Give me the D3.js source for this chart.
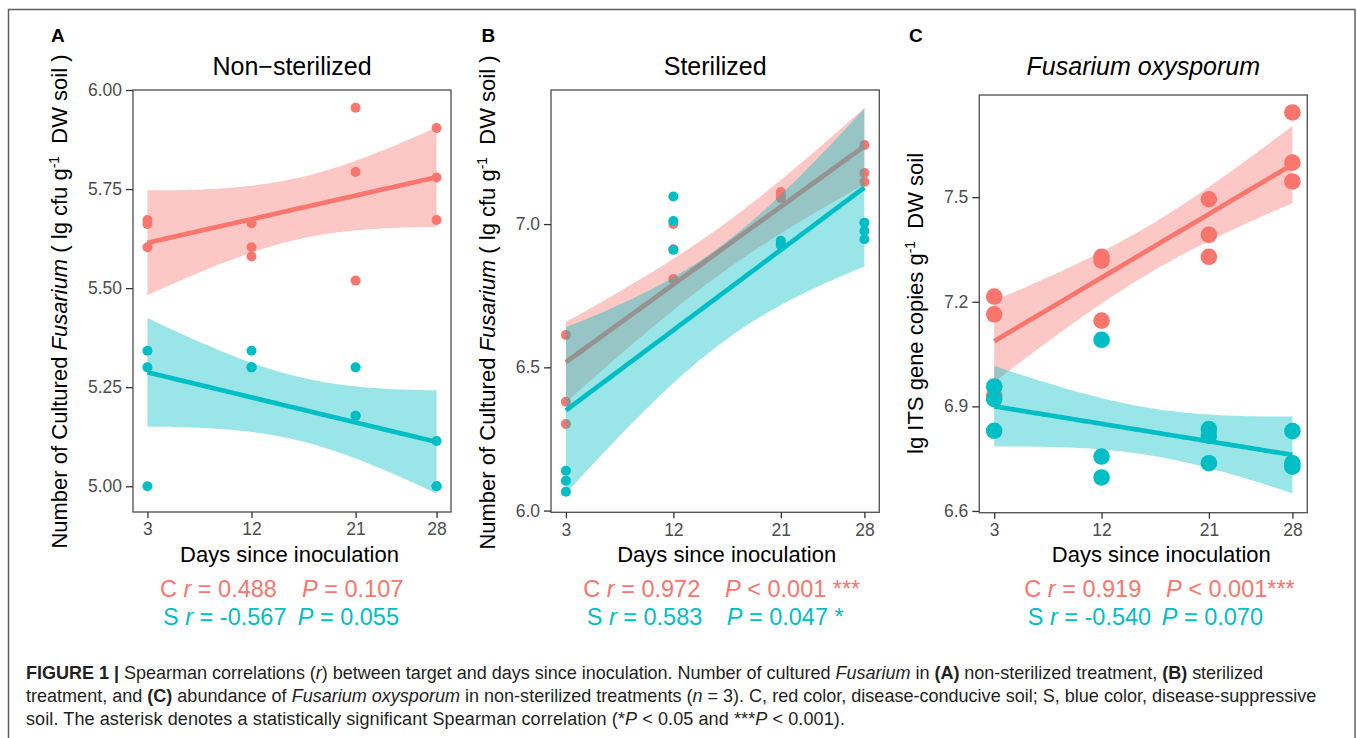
<!DOCTYPE html>
<html>
<head>
<meta charset="utf-8">
<script src="https://cdn.jsdelivr.net/npm/d3@7"></script>
<style>
  html, body { margin: 0; padding: 0; background: #fff; }
  svg { display: block; }
  text { font-family: "Liberation Sans", Arial, Helvetica, sans-serif; white-space: pre; }
</style>
</head>
<body>
<svg id="chart" width="1357" height="738"></svg>
<script>
// ---------------- data ----------------
const days = [3, 12, 21, 28];
const xTickLabels = ["3", "12", "21", "28"];

// Panel A: Non-sterilized (three replicates per day)
const nonSterilizedC = [[5.672, 5.662, 5.603], [5.664, 5.603, 5.580], [5.955, 5.793, 5.519], [5.904, 5.779, 5.672]];
const nonSterilizedS = [[5.342, 5.300, 5.000], [5.342, 5.300, 5.300], [5.300, 5.178, 5.178], [5.114, 5.000, 5.000]];
const yTicksA = [5.00, 5.25, 5.50, 5.75, 6.00];

// Panel B: Sterilized
const sterilizedC = [[6.613, 6.380, 6.302], [7.000, 6.912, 6.808], [7.112, 7.100, 7.091], [7.276, 7.178, 7.148]];
const sterilizedS = [[6.139, 6.104, 6.066], [7.096, 7.011, 6.910], [6.942, 6.930, 6.925], [7.005, 6.976, 6.947]];
const yTicksB = [6.0, 6.5, 7.0];

// Panel C: Fusarium oxysporum
const oxysporumC = [[7.215, 7.164, 6.930], [7.329, 7.318, 7.146], [7.494, 7.392, 7.329], [7.743, 7.599, 7.545]];
const oxysporumS = [[6.957, 6.921, 6.830], [7.091, 6.756, 6.696], [6.835, 6.816, 6.737], [6.829, 6.737, 6.727]];
const yTicksC = [6.6, 6.9, 7.2, 7.5];

const statsA = [["C ", "r", " = 0.488", "P", " = 0.107"], ["S ", "r", " = -0.567", "P", " = 0.055"]];
const statsB = [["C ", "r", " = 0.972", "P", " < 0.001 ***"], ["S ", "r", " = 0.583", "P", " = 0.047 *"]];
const statsC = [["C ", "r", " = 0.919", "P", " < 0.001***"], ["S ", "r", " = -0.540", "P", " = 0.070"]];

// ---------------- style ----------------
const colC = "#F8766D", colS = "#00BFC4";
const T975 = 2.2281389; // t quantile, df = 10 (lm confidence band, as geom_smooth)

const svg = d3.select("#chart");

// outer frame
svg.append("rect").attr("x", 8.5).attr("y", 9.5).attr("width", 1346.5).attr("height", 800)
  .attr("fill", "none").attr("stroke", "#5f5f5f").attr("stroke-width", 1.5);

function linFit(points) {
  const n = points.length;
  const mx = d3.mean(points, p => p[0]), my = d3.mean(points, p => p[1]);
  const sxx = d3.sum(points, p => (p[0] - mx) ** 2);
  const sxy = d3.sum(points, p => (p[0] - mx) * (p[1] - my));
  const b = sxy / sxx, a = my - b * mx;
  const ss = d3.sum(points, p => (p[1] - a - b * p[0]) ** 2);
  const s = Math.sqrt(ss / (n - 2));
  return x => ({ x, y: a + b * x, se: s * Math.sqrt(1 / n + (x - mx) ** 2 / sxx) });
}

function flatten(series) {
  const pts = [];
  series.forEach((vals, i) => vals.forEach(v => pts.push([days[i], v])));
  return pts;
}

function drawPanel(cfg) {
  const g = svg.append("g");
  const x = d3.scaleLinear().domain([1.75, 29.25]).range([cfg.left, cfg.right]);
  const y = d3.scaleLinear().domain(cfg.yDomain).range([cfg.bottom, cfg.top]);

  const ptsC = flatten(cfg.C), ptsS = flatten(cfg.S);

  // points
  [[ptsC, colC], [ptsS, colS]].forEach(([pts, col]) => {
    g.append("g").selectAll("circle").data(pts).join("circle")
      .attr("cx", d => x(d[0])).attr("cy", d => y(d[1])).attr("r", cfg.r).attr("fill", col);
  });

  // smooth (ribbon + line) per group
  const grid = d3.range(80).map(i => 3 + i * 25 / 79);
  [[ptsC, colC], [ptsS, colS]].forEach(([pts, col]) => {
    const f = linFit(pts);
    const fitted = grid.map(f);
    g.append("path").datum(fitted)
      .attr("d", d3.area().x(d => x(d.x)).y0(d => y(d.y - T975 * d.se)).y1(d => y(d.y + T975 * d.se)))
      .attr("fill", col).attr("fill-opacity", 0.4);
    g.append("path").datum(fitted)
      .attr("d", d3.line().x(d => x(d.x)).y(d => y(d.y)))
      .attr("fill", "none").attr("stroke", col).attr("stroke-width", 4.7);
  });

  // panel border
  g.append("rect").attr("x", cfg.left).attr("y", cfg.top)
    .attr("width", cfg.right - cfg.left).attr("height", cfg.bottom - cfg.top)
    .attr("fill", "none").attr("stroke", "#595959").attr("stroke-width", 1.4);

  // axes
  const xAxis = d3.axisBottom(x).tickValues(days).tickFormat((d, i) => xTickLabels[i]).tickSize(6).tickPadding(5);
  const gx = g.append("g").attr("transform", `translate(0,${cfg.bottom})`).call(xAxis);
  const yAxis = d3.axisLeft(y).tickValues(cfg.yTicks).tickFormat(d3.format(cfg.yFmt)).tickSize(7).tickPadding(4);
  const gy = g.append("g").attr("transform", `translate(${cfg.left},0)`).call(yAxis);
  [gx, gy].forEach(ax => {
    ax.select(".domain").remove();
    ax.selectAll(".tick line").attr("stroke", "#333").attr("stroke-width", 1.3);
    ax.selectAll(".tick text").attr("fill", "#4D4D4D").style("font-size", "17.5px")
      .style("font-family", "'Liberation Sans', Arial, sans-serif");
  });

  // panel letter
  g.append("text").attr("x", cfg.letterX).attr("y", 42.3).text(cfg.letter)
    .style("font-size", "19px").style("font-weight", "bold").attr("fill", "#000");

  // title
  g.append("text").attr("x", (cfg.left + cfg.right) / 2).attr("y", 75).attr("text-anchor", "middle")
    .style("font-size", "25px").style("font-style", cfg.titleItalic ? "italic" : "normal")
    .attr("fill", "#000").text(cfg.title);

  // x axis title
  g.append("text").attr("x", cfg.xTitleX).attr("y", 561.5).attr("text-anchor", "middle")
    .style("font-size", "22px").attr("fill", "#000").text("Days since inoculation");

  // y axis title
  const yt = g.append("text")
    .attr("transform", `translate(${cfg.yTitleX},${cfg.yTitleY}) rotate(-90)`)
    .attr("text-anchor", "middle").style("font-size", "22px").attr("fill", "#000");
  cfg.yTitle.forEach(part => {
    const ts = yt.append("tspan").text(part.t);
    if (part.i) ts.style("font-style", "italic");
    if (part.sup) ts.attr("dy", -8).style("font-size", "14px");
    if (part.after) ts.attr("dy", 8);
  });

  // stats
  cfg.stats.forEach((line, k) => {
    const t = g.append("text").attr("y", k === 0 ? 597 : 625)
      .style("font-size", "23.5px").attr("fill", k === 0 ? colC : colS);
    t.append("tspan").attr("x", cfg.statX[k][0]).text(line[0]);
    t.append("tspan").style("font-style", "italic").text(line[1]);
    t.append("tspan").text(line[2]);
    t.append("tspan").attr("x", cfg.statX[k][1]).style("font-style", "italic").text(line[3]);
    t.append("tspan").text(line[4]);
  });
}

const yTitleCult = [
  { t: "Number of Cultured " }, { t: "Fusarium", i: true }, { t: " ( lg cfu g" },
  { t: "-1", sup: true }, { t: "  DW soil )", after: true }
];
const yTitleITS = [
  { t: "lg ITS gene copies g" }, { t: "-1", sup: true }, { t: "  DW soil", after: true }
];

drawPanel({
  left: 133, right: 451, top: 90, bottom: 512, yDomain: [4.935, 6.0], yTicks: yTicksA, yFmt: ".2f",
  C: nonSterilizedC, S: nonSterilizedS, r: 5, title: "Non\u2212sterilized", titleItalic: false,
  letter: "A", letterX: 51, xTitleX: 289.5, yTitleX: 67, yTitleY: 301.5, yTitle: yTitleCult,
  stats: statsA, statX: [[160, 302], [163, 297.7]]
});
drawPanel({
  left: 551, right: 879.3, top: 90, bottom: 512.3, yDomain: [5.994, 7.468], yTicks: yTicksB, yFmt: ".1f",
  C: sterilizedC, S: sterilizedS, r: 5, title: "Sterilized", titleItalic: false,
  letter: "B", letterX: 481.5, xTitleX: 726.7, yTitleX: 495, yTitleY: 302.5, yTitle: yTitleCult,
  stats: statsB, statX: [[583.3, 725], [586.7, 726.7]]
});
drawPanel({
  left: 979.3, right: 1307.3, top: 95, bottom: 512.7, yDomain: [6.595, 7.793], yTicks: yTicksC, yFmt: ".1f",
  C: oxysporumC, S: oxysporumS, r: 8.3, title: "Fusarium oxysporum", titleItalic: true,
  letter: "C", letterX: 909, xTitleX: 1161.3, yTitleX: 923, yTitleY: 303.4, yTitle: yTitleITS,
  stats: statsC, statX: [[1024.3, 1166], [1027.7, 1161.7]]
});

// ---------------- caption ----------------
const captionLines = [
  [["FIGURE 1 | ", "b"], ["Spearman correlations ("], ["r", "i"], [") between target and days since inoculation. Number of cultured "], ["Fusarium", "i"], [" in "], ["(A)", "b"], [" non-sterilized treatment, "], ["(B)", "b"], [" sterilized"]],
  [["treatment, and "], ["(C)", "b"], [" abundance of "], ["Fusarium oxysporum", "i"], [" in non-sterilized treatments ("], ["n", "i"], [" = 3). C, red color, disease-conducive soil; S, blue color, disease-suppressive"]],
  [["soil. The asterisk denotes a statistically significant Spearman correlation (*"], ["P", "i"], [" < 0.05 and ***"], ["P", "i"], [" < 0.001)."]]
];
const capY = [679, 702, 725];
const capWidth = [1237, 1291, 819];
const capNodes = captionLines.map((parts, k) => {
  const t = svg.append("text").attr("x", 26).attr("y", capY[k]).style("font-size", "16px").attr("fill", "#231F20");
  parts.forEach(p => {
    const ts = t.append("tspan").text(p[0]);
    if (p[1] === "b") ts.style("font-weight", "bold");
    if (p[1] === "i") ts.style("font-style", "italic");
  });
  return t;
});
// size the caption so the second line spans its width, then fit the others by letter spacing
const w2 = capNodes[1].node().getComputedTextLength();
const fs = 16 * capWidth[1] / w2;
capNodes.forEach(t => t.style("font-size", fs.toFixed(2) + "px"));
capNodes.forEach((t, k) => {
  if (k === 1) return;
  const w = t.node().getComputedTextLength();
  const n = t.text().length;
  t.style("letter-spacing", ((capWidth[k] - w) / n).toFixed(3) + "px");
});
</script>
</body>
</html>
